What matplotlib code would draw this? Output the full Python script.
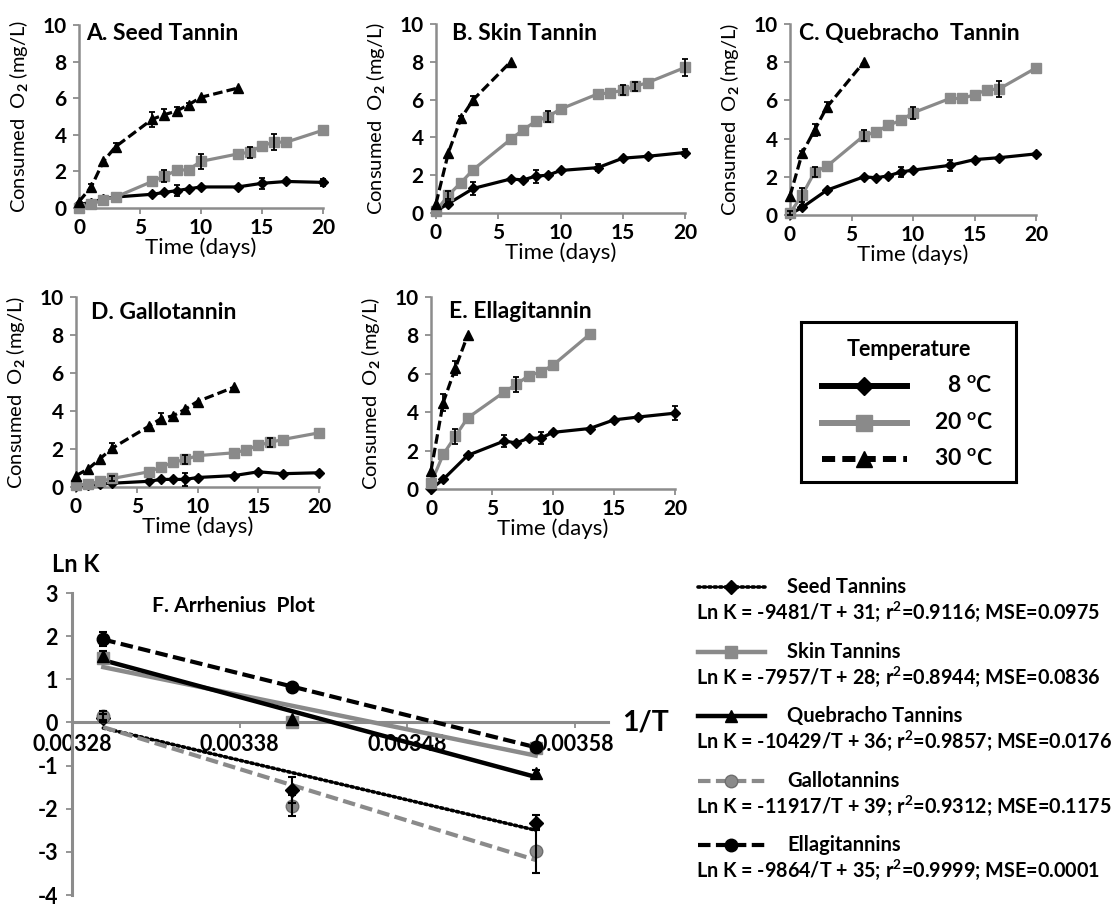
import numpy as np
import matplotlib
matplotlib.use("Agg")
import matplotlib.pyplot as plt
from matplotlib.lines import Line2D

plt.rcParams['font.family'] = ['Lato', 'DejaVu Sans']
plt.rcParams['font.weight'] = 'bold'
plt.rcParams['axes.unicode_minus'] = False
plt.rcParams['mathtext.fontset'] = 'custom'
plt.rcParams['mathtext.rm'] = 'Lato:bold'
plt.rcParams['mathtext.bf'] = 'Lato:bold'
plt.rcParams['mathtext.it'] = 'Lato:bold'

GRAY = '#8a8a8a'
AXIS_GRAY = '#8c8c8c'

# ---- panel A: seed tannin ----
seed_days_8 = [0, 1, 2, 3, 6, 7, 8, 9, 10, 13, 15, 17, 20]
seed_o2_8 = [0.2, 0.3, 0.5, 0.6, 0.75, 0.85, 0.95, 1.05, 1.15, 1.15, 1.35, 1.45, 1.4]
seed_err_8 = [0, 0, 0, 0, 0, 0, 0.3, 0, 0, 0, 0.3, 0, 0.2]
seed_days_20 = [0, 1, 2, 3, 6, 7, 8, 9, 10, 13, 14, 15, 16, 17, 20]
seed_o2_20 = [0, 0.2, 0.45, 0.6, 1.45, 1.75, 2.05, 2.1, 2.55, 2.95, 3.05, 3.4, 3.6, 3.6, 4.25]
seed_err_20 = [0, 0, 0, 0, 0, 0.35, 0, 0, 0.4, 0, 0.3, 0, 0.45, 0, 0]
seed_days_30 = [0, 1, 2, 3, 6, 7, 8, 9, 10, 13]
seed_o2_30 = [0.35, 1.15, 2.55, 3.35, 4.85, 5.1, 5.3, 5.65, 6.05, 6.55]
seed_err_30 = [0, 0.15, 0, 0.2, 0.4, 0.3, 0.2, 0.1, 0, 0]

# ---- panel B: skin tannin ----
skin_days_8 = [0, 1, 3, 6, 7, 8, 9, 10, 13, 15, 17, 20]
skin_o2_8 = [0.1, 0.5, 1.3, 1.8, 1.75, 1.95, 2.0, 2.25, 2.4, 2.9, 3.0, 3.2]
skin_err_8 = [0, 0.15, 0.35, 0, 0, 0.35, 0, 0, 0.2, 0, 0, 0.2]
skin_days_20 = [0, 1, 2, 3, 6, 7, 8, 9, 10, 13, 14, 15, 16, 17, 20]
skin_o2_20 = [0.1, 0.95, 1.6, 2.3, 3.9, 4.4, 4.85, 5.1, 5.5, 6.3, 6.35, 6.5, 6.7, 6.9, 7.7]
skin_err_20 = [0, 0.2, 0, 0, 0, 0, 0, 0.3, 0, 0, 0, 0.25, 0.25, 0, 0.45]
skin_days_30 = [0, 1, 2, 3, 6]
skin_o2_30 = [0.5, 3.2, 5.0, 6.0, 8.0]
skin_err_30 = [0, 0, 0.15, 0.2, 0]

# ---- panel C: quebracho tannin ----
queb_days_8 = [0, 1, 3, 6, 7, 8, 9, 10, 13, 15, 17, 20]
queb_o2_8 = [0.05, 0.4, 1.3, 2.0, 1.95, 2.05, 2.25, 2.35, 2.6, 2.9, 3.0, 3.2]
queb_err_8 = [0, 0.1, 0, 0, 0, 0, 0.25, 0, 0.3, 0, 0, 0]
queb_days_20 = [0, 1, 2, 3, 6, 7, 8, 9, 10, 13, 14, 15, 16, 17, 20]
queb_o2_20 = [0.1, 1.05, 2.25, 2.55, 4.15, 4.35, 4.7, 4.95, 5.35, 6.1, 6.1, 6.3, 6.55, 6.6, 7.7]
queb_err_20 = [0.1, 0.35, 0.25, 0, 0.3, 0, 0, 0, 0.3, 0, 0, 0, 0, 0.4, 0]
queb_days_30 = [0, 1, 2, 3, 6]
queb_o2_30 = [1.0, 3.25, 4.45, 5.65, 8.0]
queb_err_30 = [0, 0.1, 0.3, 0.25, 0]

# ---- panel D: gallotannin ----
gallo_days_8 = [0, 1, 2, 3, 6, 7, 8, 9, 10, 13, 15, 17, 20]
gallo_o2_8 = [0.05, 0.1, 0.15, 0.2, 0.3, 0.4, 0.4, 0.4, 0.5, 0.6, 0.8, 0.7, 0.75]
gallo_err_8 = [0, 0, 0, 0, 0, 0, 0, 0.35, 0, 0, 0, 0, 0]
gallo_days_20 = [0, 1, 2, 3, 6, 7, 8, 9, 10, 13, 14, 15, 16, 17, 20]
gallo_o2_20 = [0.1, 0.15, 0.3, 0.45, 0.8, 1.05, 1.3, 1.45, 1.65, 1.8, 1.95, 2.2, 2.35, 2.5, 2.85]
gallo_err_20 = [0, 0, 0, 0.15, 0, 0, 0, 0.25, 0, 0, 0, 0, 0.25, 0, 0]
gallo_days_30 = [0, 1, 2, 3, 6, 7, 8, 9, 10, 13]
gallo_o2_30 = [0.6, 0.95, 1.5, 2.05, 3.2, 3.6, 3.75, 4.1, 4.5, 5.25]
gallo_err_30 = [0, 0, 0, 0.25, 0, 0.3, 0, 0, 0, 0]

# ---- panel E: ellagitannin ----
ellag_days_8 = [0, 1, 3, 6, 7, 8, 9, 10, 13, 15, 17, 20]
ellag_o2_8 = [0.0, 0.5, 1.75, 2.5, 2.4, 2.65, 2.65, 2.95, 3.15, 3.6, 3.75, 3.95]
ellag_err_8 = [0, 0, 0, 0.3, 0, 0, 0.3, 0, 0, 0, 0, 0.35]
ellag_days_20 = [0, 1, 2, 3, 6, 7, 8, 9, 10, 13]
ellag_o2_20 = [0.3, 1.8, 2.75, 3.7, 5.05, 5.45, 5.9, 6.1, 6.45, 8.05]
ellag_err_20 = [0, 0, 0.4, 0, 0, 0.4, 0, 0, 0, 0]
ellag_days_30 = [0, 1, 2, 3]
ellag_o2_30 = [0.95, 4.5, 6.3, 8.0]
ellag_err_30 = [0, 0.45, 0.35, 0]

# ---- panel F: Arrhenius ----
temps_k = [303.15, 293.15, 281.15]
lnk_seed = [0.1, -1.57, -2.32]
lnk_seed_err = [0.1, 0.3, 0.18]
lnk_skin = [1.5, 0.0, -0.6]
lnk_skin_err = [0, 0, 0]
lnk_queb = [1.55, 0.07, -1.18]
lnk_queb_err = [0.1, 0, 0.08]
lnk_gallo = [0.16, -1.93, -2.98]
lnk_gallo_err = [0.1, 0.25, 0.5]
lnk_ellag = [1.93, 0.82, -0.57]
lnk_ellag_err = [0.17, 0.05, 0.05]

f_names = ['Seed Tannins', 'Skin Tannins', 'Quebracho Tannins', 'Gallotannins', 'Ellagitannins']
f_equations = [
    'Ln K = -9481/T + 31; r$^2$=0.9116; MSE=0.0975',
    'Ln K = -7957/T + 28; r$^2$=0.8944; MSE=0.0836',
    'Ln K = -10429/T + 36; r$^2$=0.9857; MSE=0.0176',
    'Ln K = -11917/T + 39; r$^2$=0.9312; MSE=0.1175',
    'Ln K = -9864/T + 35; r$^2$=0.9999; MSE=0.0001',
]
temp_labels = ['8 $^{\\rm o}$C', '20 $^{\\rm o}$C', '30 $^{\\rm o}$C']

W, H = 1120, 908
fig = plt.figure(figsize=(W / 100, H / 100), dpi=100)


def px_axes(x0, x1, ytop, ybot):
    # convert a pixel box into figure fraction axes
    return fig.add_axes([x0 / W, 1 - ybot / H, (x1 - x0) / W, (ybot - ytop) / H])


# style for each temperature series
STYLES = {
    8: dict(color='black', marker='D', ms=5.5, ls='-'),
    20: dict(color=GRAY, marker='s', ms=7, ls='-'),
    30: dict(color='black', marker='^', ms=7, ls=(0, (3, 1.3))),
}


def draw_series(ax, days, vals, errs, temp):
    st = STYLES[temp]
    days = np.array(days, float)
    vals = np.array(vals, float)
    errs = np.array(errs, float)
    ax.plot(days, vals, color=st['color'], ls=st['ls'], lw=2.3, marker=st['marker'],
            ms=st['ms'], mfc=st['color'], mec=st['color'], clip_on=False, zorder=3)
    mask = errs > 0
    if mask.any():
        ax.errorbar(days[mask], vals[mask], yerr=errs[mask], fmt='none', ecolor='black',
                    elinewidth=1.3, capsize=2.5, capthick=1.3, zorder=4, clip_on=False)


def style_panel(ax, title, tx, ty, width_px):
    ax.set_xlim(0, 20)
    ax.set_ylim(0, 10)
    ax.set_xticks([0, 5, 10, 15, 20])
    ax.set_yticks([0, 2, 4, 6, 8, 10])
    for s in ['top', 'right']:
        ax.spines[s].set_visible(False)
    for s in ['left', 'bottom']:
        ax.spines[s].set_color(AXIS_GRAY)
        ax.spines[s].set_linewidth(1.8)
    ax.tick_params(color=AXIS_GRAY, length=4, width=1.3, labelsize=15, pad=3)
    ax.tick_params(axis='y', pad=5)
    ax.set_xlabel('Time (days)', fontsize=16, labelpad=0)
    ax.set_ylabel('Consumed  O$_2$ (mg/L)', fontsize=14.5)
    # label's right edge sits about 48 px left of the spine
    ax.yaxis.set_label_coords(-48 / width_px, 0.5)
    ax.text(tx, ty, title, transform=ax.transAxes, fontsize=16.5, va='center', ha='left')
    ax.set_facecolor('none')


panels = [
    ((79, 323, 25, 208), 'A. Seed Tannin', 0.03, 0.955,
     [(seed_days_8, seed_o2_8, seed_err_8, 8), (seed_days_20, seed_o2_20, seed_err_20, 20),
      (seed_days_30, seed_o2_30, seed_err_30, 30)]),
    ((436, 685, 24, 213), 'B. Skin Tannin', 0.064, 0.952,
     [(skin_days_8, skin_o2_8, skin_err_8, 8), (skin_days_20, skin_o2_20, skin_err_20, 20),
      (skin_days_30, skin_o2_30, skin_err_30, 30)]),
    ((790, 1036, 24, 215), 'C. Quebracho  Tannin', 0.037, 0.952,
     [(queb_days_8, queb_o2_8, queb_err_8, 8), (queb_days_20, queb_o2_20, queb_err_20, 20),
      (queb_days_30, queb_o2_30, queb_err_30, 30)]),
    ((76, 319, 297, 487), 'D. Gallotannin', 0.06, 0.92,
     [(gallo_days_8, gallo_o2_8, gallo_err_8, 8), (gallo_days_20, gallo_o2_20, gallo_err_20, 20),
      (gallo_days_30, gallo_o2_30, gallo_err_30, 30)]),
    ((431, 675, 297, 489), 'E. Ellagitannin', 0.074, 0.925,
     [(ellag_days_8, ellag_o2_8, ellag_err_8, 8), (ellag_days_20, ellag_o2_20, ellag_err_20, 20),
      (ellag_days_30, ellag_o2_30, ellag_err_30, 30)]),
]

for box, title, tx, ty, series in panels:
    ax = px_axes(*box)
    style_panel(ax, title, tx, ty, box[1] - box[0])
    for days, vals, errs, temp in series:
        draw_series(ax, days, vals, errs, temp)

# ---- temperature legend box ----
lg = px_axes(801, 1016, 322, 482)
lg.set_xlim(0, 1)
lg.set_ylim(0, 1)
lg.set_xticks([])
lg.set_yticks([])
for s in lg.spines.values():
    s.set_linewidth(2.2)
    s.set_color('black')
lg.text(0.5, 0.83, 'Temperature', ha='center', va='center', fontsize=15.5)
leg_styles = [
    dict(color='black', marker='D', ms=9, ls='-'),
    dict(color=GRAY, marker='s', ms=11, ls='-'),
    dict(color='black', marker='^', ms=11, ls=(0, (2.2, 1.2))),
]
for (label, st, yy) in zip(temp_labels, leg_styles, [0.6, 0.37, 0.145]):
    lg.add_line(Line2D([0.098, 0.493], [yy, yy], color=st['color'], ls=st['ls'], lw=4.3))
    lg.add_line(Line2D([0.295], [yy], color=st['color'], marker=st['marker'], ms=st['ms'], ls='none'))
    lg.text(0.893, yy, label, ha='right', va='center', fontsize=16.5)

# ---- panel F: Arrhenius plot ----
axf = px_axes(72, 608, 593, 895)
inv_t = 1.0 / np.array(temps_k)
f_series = [
    (lnk_seed, lnk_seed_err, dict(color='black', ls=(0, (0.6, 0.9)), lw=2.6, marker='D', mfc='black', mec='black', ms=7, dash_capstyle='round')),
    (lnk_skin, lnk_skin_err, dict(color=GRAY, ls='-', lw=3.2, marker='s', mfc=GRAY, mec=GRAY, ms=8)),
    (lnk_queb, lnk_queb_err, dict(color='black', ls='-', lw=3.2, marker='^', mfc='black', mec='black', ms=8)),
    (lnk_gallo, lnk_gallo_err, dict(color=GRAY, ls=(0, (3, 1.3)), lw=3.0, marker='o', mfc=GRAY, mec='#6e6e6e', ms=9)),
    (lnk_ellag, lnk_ellag_err, dict(color='black', ls=(0, (3, 1.3)), lw=3.0, marker='o', mfc='black', mec='black', ms=9)),
]
for vals, errs, st in f_series:
    vals = np.array(vals)
    slope, icpt = np.polyfit(inv_t, vals, 1)
    xs = np.array([inv_t.min(), inv_t.max()])
    line_kw = dict(color=st['color'], ls=st['ls'], lw=st['lw'], zorder=3, clip_on=False)
    if 'dash_capstyle' in st:
        line_kw['dash_capstyle'] = st['dash_capstyle']
    axf.plot(xs, slope * xs + icpt, **line_kw)
    axf.plot(inv_t, vals, ls='none', marker=st['marker'], mfc=st['mfc'], mec=st['mec'],
             ms=st['ms'], zorder=4, clip_on=False)
    errs = np.array(errs)
    mask = errs > 0
    axf.errorbar(inv_t[mask], vals[mask], yerr=errs[mask], fmt='none', ecolor='black',
                 elinewidth=1.5, capsize=3, capthick=1.5, zorder=5, clip_on=False)

axf.set_xlim(0.00328, 0.0036)
axf.set_ylim(-4, 3)
axf.set_xticks([0.00328, 0.00338, 0.00348, 0.00358])
axf.set_xticklabels(['0.00328', '0.00338', '0.00348', '0.00358'])
axf.set_yticks(range(-4, 4))
axf.spines['top'].set_visible(False)
axf.spines['right'].set_visible(False)
axf.spines['bottom'].set_position(('data', 0))
for s in ['left', 'bottom']:
    axf.spines[s].set_color(AXIS_GRAY)
    axf.spines[s].set_linewidth(2.2)
axf.tick_params(color=AXIS_GRAY, length=4, width=1.3, labelsize=15.5, pad=4)
axf.tick_params(axis='y', pad=6)
axf.set_facecolor('none')
axf.text(0.149, 0.958, 'F. Arrhenius  Plot', transform=axf.transAxes, fontsize=15.2, va='center')
fig.text(52 / W, 1 - 565 / H, 'Ln K', fontsize=17, va='center', ha='left')
fig.text(622 / W, 1 - 722 / H, '1/T', fontsize=20.5, va='center', ha='left')

# ---- Arrhenius legend ----
lf = px_axes(680, 1120, 560, 890)
lf.set_xlim(680, 1120)
lf.set_ylim(890, 560)
lf.axis('off')
for i, ((vals, errs, st), name, eq) in enumerate(zip(f_series, f_names, f_equations)):
    y_name = 587 + 64.5 * i
    kw = dict(color=st['color'], ls=st['ls'], lw=st['lw'])
    if 'dash_capstyle' in st:
        kw['dash_capstyle'] = st['dash_capstyle']
    lf.add_line(Line2D([698, 765], [y_name, y_name], **kw))
    lf.add_line(Line2D([731], [y_name], ls='none', marker=st['marker'], mfc=st['mfc'],
                       mec=st['mec'], ms=st['ms']))
    lf.text(787, y_name, name, fontsize=14.5, va='center', ha='left')
    lf.text(696, y_name + 25, eq, fontsize=14.2, va='center', ha='left')

fig.savefig('out.png', dpi=100)
